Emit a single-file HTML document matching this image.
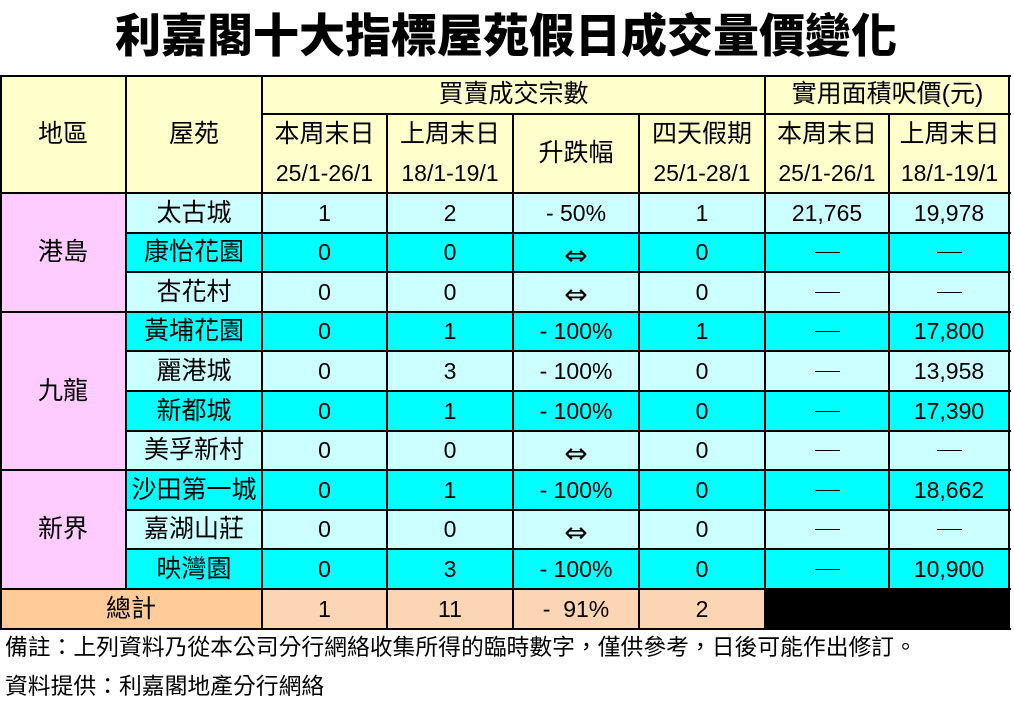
<!DOCTYPE html>
<html><head><meta charset="utf-8">
<style>
html,body{margin:0;padding:0;background:#fff;}
body{width:1014px;height:707px;position:relative;overflow:hidden;font-family:"Liberation Sans","Noto Sans CJK TC","Noto Sans CJK SC",sans-serif;color:#000;}
.abs{position:absolute;}
.c{position:absolute;display:flex;align-items:center;justify-content:center;font-size:25px;line-height:1;white-space:nowrap;}
.n{font-size:23px;}
.row{position:absolute;left:126px;width:884px;}
.row .c{top:0;height:100%;}
.a{left:0;width:136px}.b{left:136px;width:125px}.cc{left:261px;width:126px}.d{left:387px;width:126px}.e{left:513px;width:126px}.f{left:639px;width:124px}.g{left:763px;width:120px}
.L{background:#CCFFFF}.C{background:#00FFFF}
.h{position:absolute;background:#000;height:2px}
.v{position:absolute;background:#000;width:2px}
.dash{display:block;width:25px;height:1px;background:#000;}
.arr{font-family:"DejaVu Sans",sans-serif;font-size:28px;position:relative;top:3px}
.title{position:absolute;left:-1px;top:10px;width:1014px;height:46px;line-height:46px;text-align:center;font-size:46px;font-weight:900;font-family:"Noto Sans CJK TC","Noto Sans CJK SC",sans-serif;}
.note{position:absolute;left:5px;font-size:22.8px;line-height:1;white-space:nowrap;font-family:"Liberation Sans","Noto Sans CJK TC",sans-serif;}
</style></head><body>
<div class="title">利嘉閣十大指標屋苑假日成交量價變化</div>

<div class="abs" style="left:0;top:75px;width:1010px;height:118px;background:#FFFFCC"></div>
<div class="abs" style="left:0;top:193px;width:126px;height:396px;background:#FFCCFF"></div>

<div class="c" style="left:0;top:75px;width:126px;height:118px;">地區</div>
<div class="c" style="left:126px;top:75px;width:136px;height:118px;">屋苑</div>
<div class="c" style="left:262px;top:75px;width:503px;height:39px;">買賣成交宗數</div>
<div class="c" style="left:765px;top:75px;width:245px;height:39px;">實用面積呎價(元)</div>
<div class="c" style="left:262px;top:114px;width:125px;height:40px;">本周末日</div>
<div class="c n" style="left:262px;top:154px;width:125px;height:39px;">25/1-26/1</div>
<div class="c" style="left:387px;top:114px;width:126px;height:40px;">上周末日</div>
<div class="c n" style="left:387px;top:154px;width:126px;height:39px;">18/1-19/1</div>
<div class="c" style="left:513px;top:114px;width:126px;height:79px;">升跌幅</div>
<div class="c" style="left:639px;top:114px;width:126px;height:40px;">四天假期</div>
<div class="c n" style="left:639px;top:154px;width:126px;height:39px;">25/1-28/1</div>
<div class="c" style="left:765px;top:114px;width:124px;height:40px;">本周末日</div>
<div class="c n" style="left:765px;top:154px;width:124px;height:39px;">25/1-26/1</div>
<div class="c" style="left:889px;top:114px;width:121px;height:40px;">上周末日</div>
<div class="c n" style="left:889px;top:154px;width:121px;height:39px;">18/1-19/1</div>

<div class="c" style="left:0;top:193px;width:126px;height:119px;">港島</div>
<div class="c" style="left:0;top:312px;width:126px;height:158px;">九龍</div>
<div class="c" style="left:0;top:470px;width:126px;height:119px;">新界</div>

<div class="row L" style="top:193px;height:40px;">
<div class="c a">太古城</div><div class="c n b">1</div><div class="c n cc">2</div><div class="c n d">-&nbsp;50%</div><div class="c n e">1</div><div class="c n f">21,765</div><div class="c n g">19,978</div></div>
<div class="row C" style="top:233px;height:39px;">
<div class="c a">康怡花園</div><div class="c n b">0</div><div class="c n cc">0</div><div class="c d"><span class="arr">⇔</span></div><div class="c n e">0</div><div class="c f"><span class="dash"></span></div><div class="c g"><span class="dash"></span></div></div>
<div class="row L" style="top:272px;height:40px;">
<div class="c a">杏花村</div><div class="c n b">0</div><div class="c n cc">0</div><div class="c d"><span class="arr">⇔</span></div><div class="c n e">0</div><div class="c f"><span class="dash"></span></div><div class="c g"><span class="dash"></span></div></div>
<div class="row C" style="top:312px;height:39px;">
<div class="c a">黃埔花園</div><div class="c n b">0</div><div class="c n cc">1</div><div class="c n d">-&nbsp;100%</div><div class="c n e">1</div><div class="c f"><span class="dash"></span></div><div class="c n g">17,800</div></div>
<div class="row L" style="top:351px;height:40px;">
<div class="c a">麗港城</div><div class="c n b">0</div><div class="c n cc">3</div><div class="c n d">-&nbsp;100%</div><div class="c n e">0</div><div class="c f"><span class="dash"></span></div><div class="c n g">13,958</div></div>
<div class="row C" style="top:391px;height:40px;">
<div class="c a">新都城</div><div class="c n b">0</div><div class="c n cc">1</div><div class="c n d">-&nbsp;100%</div><div class="c n e">0</div><div class="c f"><span class="dash"></span></div><div class="c n g">17,390</div></div>
<div class="row L" style="top:431px;height:39px;">
<div class="c a">美孚新村</div><div class="c n b">0</div><div class="c n cc">0</div><div class="c d"><span class="arr">⇔</span></div><div class="c n e">0</div><div class="c f"><span class="dash"></span></div><div class="c g"><span class="dash"></span></div></div>
<div class="row C" style="top:470px;height:40px;">
<div class="c a">沙田第一城</div><div class="c n b">0</div><div class="c n cc">1</div><div class="c n d">-&nbsp;100%</div><div class="c n e">0</div><div class="c f"><span class="dash"></span></div><div class="c n g">18,662</div></div>
<div class="row L" style="top:510px;height:39px;">
<div class="c a">嘉湖山莊</div><div class="c n b">0</div><div class="c n cc">0</div><div class="c d"><span class="arr">⇔</span></div><div class="c n e">0</div><div class="c f"><span class="dash"></span></div><div class="c g"><span class="dash"></span></div></div>
<div class="row C" style="top:549px;height:40px;">
<div class="c a">映灣園</div><div class="c n b">0</div><div class="c n cc">3</div><div class="c n d">-&nbsp;100%</div><div class="c n e">0</div><div class="c f"><span class="dash"></span></div><div class="c n g">10,900</div></div>

<div class="c" style="left:0;top:589px;width:262px;height:40px;background:#FFCC99;">總計</div>
<div class="c n" style="left:262px;top:589px;width:125px;height:40px;background:#FCD5B4;">1</div>
<div class="c n" style="left:387px;top:589px;width:126px;height:40px;background:#FCD5B4;">11</div>
<div class="c n" style="left:513px;top:589px;width:126px;height:40px;background:#FCD5B4;">-&nbsp;&nbsp;91%</div>
<div class="c n" style="left:639px;top:589px;width:126px;height:40px;background:#FCD5B4;">2</div>
<div class="abs" style="left:765px;top:589px;width:245px;height:40px;background:#000;"></div>

<div class="h" style="left:0;top:75px;width:1011px"></div>
<div class="h" style="left:262px;top:113px;width:749px"></div>
<div class="h" style="left:0;top:192px;width:1011px"></div>
<div class="h" style="left:126px;top:232px;width:885px"></div>
<div class="h" style="left:126px;top:271px;width:885px"></div>
<div class="h" style="left:0;top:311px;width:1011px"></div>
<div class="h" style="left:126px;top:350px;width:885px"></div>
<div class="h" style="left:126px;top:390px;width:885px"></div>
<div class="h" style="left:126px;top:430px;width:885px"></div>
<div class="h" style="left:0;top:469px;width:1011px"></div>
<div class="h" style="left:126px;top:509px;width:885px"></div>
<div class="h" style="left:126px;top:548px;width:885px"></div>
<div class="h" style="left:0;top:588px;width:1011px"></div>
<div class="h" style="left:0;top:628px;width:1011px"></div>

<div class="v" style="left:0;top:75px;height:555px"></div>
<div class="v" style="left:125px;top:75px;height:515px"></div>
<div class="v" style="left:261px;top:75px;height:555px"></div>
<div class="v" style="left:386px;top:113px;height:517px"></div>
<div class="v" style="left:512px;top:113px;height:517px"></div>
<div class="v" style="left:638px;top:113px;height:517px"></div>
<div class="v" style="left:764px;top:75px;height:555px"></div>
<div class="v" style="left:888px;top:113px;height:517px"></div>
<div class="v" style="left:1008px;top:75px;height:555px"></div>

<div class="note" style="top:636px;">備註：上列資料乃從本公司分行網絡收集所得的臨時數字，僅供參考，日後可能作出修訂。</div>
<div class="note" style="top:675px;">資料提供：利嘉閣地產分行網絡</div>
</body></html>
